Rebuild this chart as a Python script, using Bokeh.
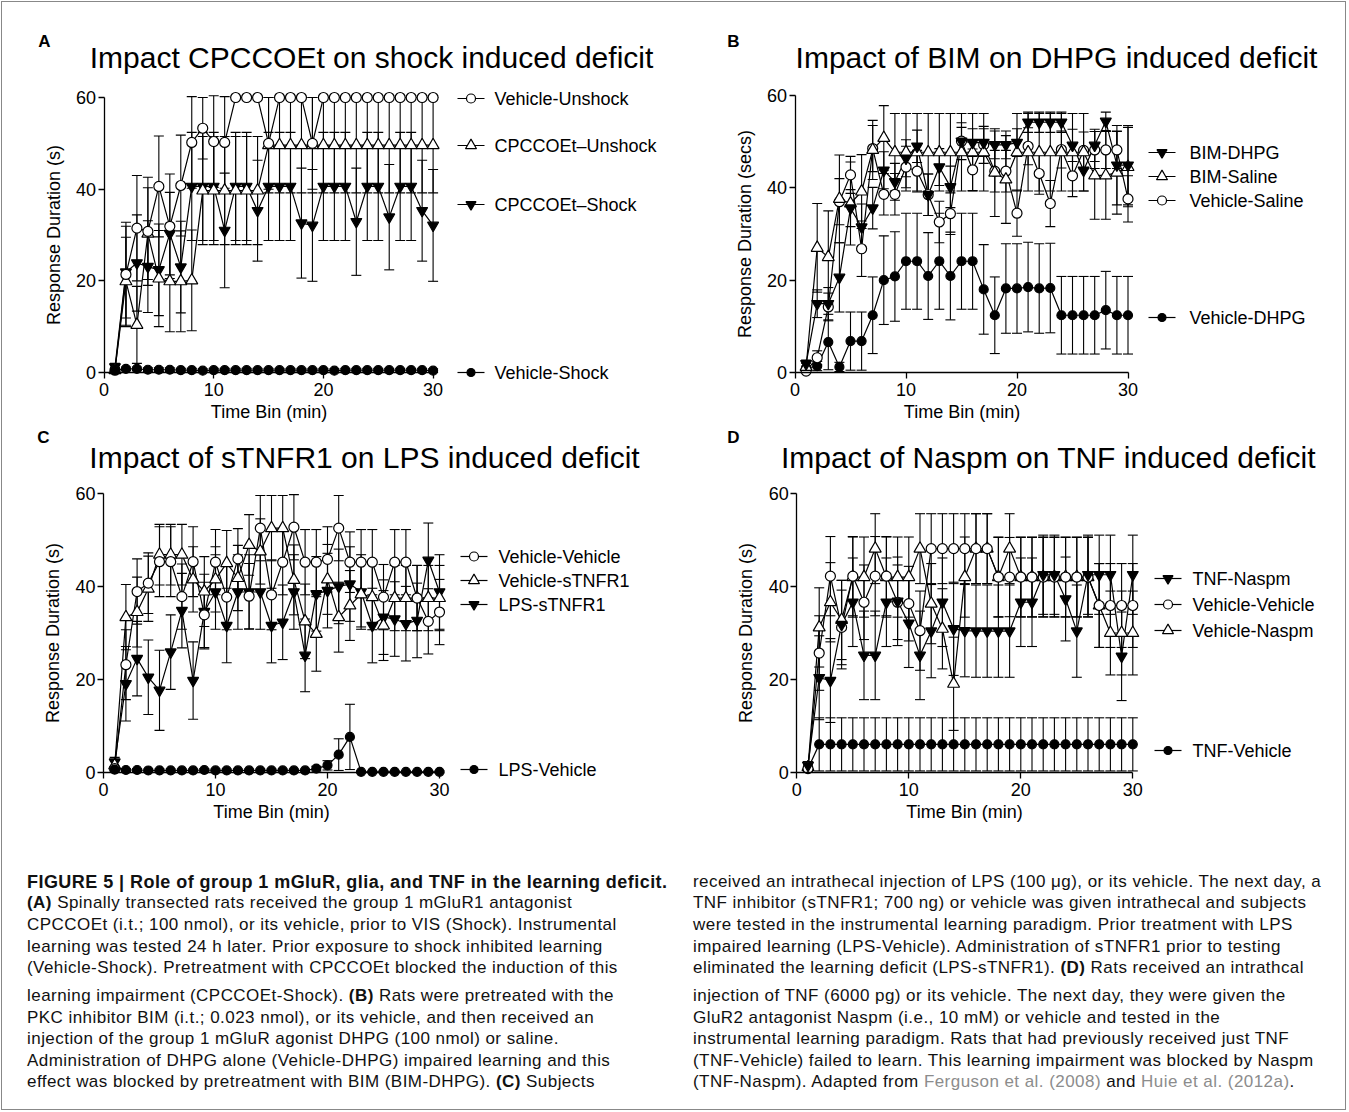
from bokeh.plotting import figure
from bokeh.models import Range1d, LinearAxis, FixedTicker, Div
from bokeh.layouts import column, row
from bokeh.embed import file_html
from bokeh.resources import INLINE
from bokeh.core.properties import value

FONT = "Liberation Sans"

# ---------------- data ----------------
time_bins = [1, 2, 3, 4, 5, 6, 7, 8, 9, 10, 11, 12, 13, 14, 15,
             16, 17, 18, 19, 20, 21, 22, 23, 24, 25, 26, 27, 28, 29, 30]
x_ticks = [0, 10, 20, 30]
y_ticks = [0, 20, 40, 60]

# Panel A
a_veh_unshock = [0.5, 21.4, 31.5, 30.8, 40.6, 31.9, 40.8, 50.2, 53.3, 50.4, 50.2, 60, 60, 60, 50.0,
                 60, 60, 60, 50.0, 60, 60, 60, 60, 60, 60, 60, 60, 60, 60, 60]
a_veh_unshock_sem = [0.5, 11.4, 11.5, 11.8, 11.0, 11.4, 11.0, 10.0, 6.7, 10.0, 10.0, 0, 0, 0, 10.0,
                     0, 0, 0, 10.0, 0, 0, 0, 0, 0, 0, 0, 0, 0, 0, 0]
a_cpc_unshock = [0.5, 19.9, 10.4, 30.3, 20.5, 19.9, 19.9, 20.1, 39.7, 39.7, 39.7, 39.7, 39.7, 39.7, 49.6,
                 49.6, 49.6, 49.6, 49.6, 49.6, 49.6, 49.6, 49.6, 49.6, 49.6, 49.6, 49.6, 49.6, 49.6, 49.6]
a_cpc_unshock_sem = [0.5, 9.6, 8.4, 10.0, 10.5, 11.0, 11.0, 11.0, 11.8, 11.8, 11.8, 11.8, 11.8, 11.8, 10.4,
                     10.4, 10.4, 10.4, 10.4, 10.4, 10.4, 10.4, 10.4, 10.4, 10.4, 10.4, 10.4, 10.4, 10.4, 10.4]
a_cpc_shock = [1.2, 21.9, 23.9, 23.1, 22.4, 30.3, 23.0, 40.6, 40.6, 40.6, 31.0, 40.6, 40.6, 35.3, 40.6,
               40.6, 40.6, 32.6, 32.1, 40.6, 40.6, 40.6, 32.9, 40.6, 40.6, 33.9, 40.6, 40.6, 35.3, 32.1]
a_cpc_shock_sem = [0.8, 10.0, 10.5, 10.0, 10.0, 9.0, 10.0, 11.8, 11.8, 11.8, 12.5, 11.8, 11.8, 11.0, 11.8,
                   11.8, 11.8, 12.0, 12.2, 11.8, 11.8, 11.8, 11.7, 11.8, 11.8, 11.5, 11.8, 11.8, 11.0, 12.2]
a_veh_shock = [0.5, 0.8, 0.8, 0.6, 0.6, 0.6, 0.5, 0.5, 0.4, 0.5, 0.5, 0.5, 0.5, 0.5, 0.5,
               0.5, 0.5, 0.5, 0.5, 0.5, 0.4, 0.5, 0.5, 0.5, 0.5, 0.5, 0.5, 0.5, 0.5, 0.4]
a_veh_shock_sem = [0.4, 0.4, 0.4, 0.4, 0.4, 0.4, 0.4, 0.4, 0.4, 0.4, 0.4, 0.4, 0.4, 0.4, 0.4,
                   0.4, 0.4, 0.4, 0.4, 0.4, 0.4, 0.4, 0.4, 0.4, 0.4, 0.4, 0.4, 0.4, 0.4, 0.4]

# Panel B
b_bim_dhpg = [1.9, 14.9, 14.9, 20.6, 35.6, 31.5, 35.6, 43.8, 41.3, 46.4, 49.0, 38.5, 44.5, 40.2, 50.1,
              49.8, 49.8, 49.3, 49.3, 49.8, 54.2, 54.2, 54.2, 54.2, 49.2, 43.8, 49.2, 54.4, 44.9, 44.9]
b_bim_dhpg_sem = [0.8, 3.0, 3.5, 7.5, 4.0, 5.0, 4.5, 4.0, 4.0, 4.0, 3.5, 4.5, 4.0, 4.5, 3.0,
                  3.0, 3.0, 3.0, 3.0, 3.0, 2.2, 2.2, 2.2, 2.2, 3.5, 4.5, 3.5, 2.0, 8.6, 8.6]
b_bim_saline = [1.2, 27.0, 25.0, 37.6, 36.6, 39.2, 48.2, 50.8, 47.7, 47.7, 47.7, 47.7, 47.7, 47.7, 47.7,
                47.7, 47.7, 43.3, 41.8, 47.7, 47.7, 47.7, 47.7, 47.7, 47.7, 47.7, 42.7, 42.7, 43.3, 44.5]
b_bim_saline_sem = [0.8, 9.6, 10.0, 9.5, 9.0, 8.0, 6.4, 7.0, 8.4, 8.4, 8.4, 8.4, 8.4, 8.4, 8.4,
                    8.4, 8.4, 9.5, 9.5, 8.4, 8.4, 8.4, 8.4, 8.4, 8.4, 8.4, 9.5, 9.5, 9.0, 8.6]
b_veh_saline = [0.3, 3.2, 14.2, 37.0, 42.8, 26.8, 48.5, 38.6, 38.6, 44.5, 43.6, 38.5, 32.6, 34.4, 50.1,
                43.9, 49.3, 43.6, 43.6, 34.5, 49.0, 43.1, 36.6, 48.3, 42.6, 48.1, 48.2, 48.2, 48.2, 37.6]
b_veh_saline_sem = [0.3, 1.5, 3.0, 5.0, 4.0, 6.0, 5.0, 4.5, 4.5, 4.5, 4.5, 4.5, 4.5, 4.5, 4.0,
                    4.5, 4.0, 4.5, 4.5, 5.0, 4.0, 4.5, 5.0, 4.0, 4.5, 4.0, 4.0, 4.0, 4.0, 5.0]
b_veh_dhpg = [0.9, 1.4, 6.6, 1.2, 6.8, 6.8, 12.4, 20.0, 20.8, 24.1, 24.1, 20.9, 24.1, 20.9, 24.1,
              24.1, 18.0, 12.4, 18.2, 18.2, 18.5, 18.2, 18.3, 12.4, 12.4, 12.4, 12.4, 13.5, 12.4, 12.4]
b_veh_dhpg_sem = [0.5, 1.0, 6.0, 1.0, 6.3, 6.3, 8.3, 9.6, 9.7, 10.4, 10.4, 9.4, 10.4, 9.5, 10.4,
                  10.4, 9.7, 8.3, 9.7, 9.7, 9.7, 9.7, 9.7, 8.4, 8.4, 8.4, 8.4, 8.4, 8.4, 8.4]

# Panel C
c_veh_veh = [0.9, 23.2, 38.9, 40.7, 45.3, 45.3, 37.8, 45.3, 33.9, 45.2, 37.7, 45.9, 37.9, 52.5, 38.2,
             45.2, 52.7, 45.2, 45.2, 45.8, 52.5, 45.2, 45.2, 45.2, 37.7, 45.2, 45.2, 37.5, 32.5, 34.5]
c_veh_veh_sem = [0.5, 7.5, 7.0, 6.5, 7.5, 7.5, 7.0, 7.5, 7.0, 7.0, 7.0, 6.5, 7.0, 7.0, 7.5,
                 7.0, 7.0, 7.0, 7.0, 7.0, 7.0, 6.5, 7.0, 7.0, 7.0, 7.0, 7.0, 7.0, 7.0, 7.0]
c_veh_stnfr1 = [1.6, 33.4, 34.5, 39.5, 46.8, 46.8, 46.8, 41.5, 38.9, 41.5, 45.0, 41.8, 48.9, 47.5, 52.5,
                52.5, 41.4, 32.5, 29.8, 41.5, 33.4, 35.9, 38.3, 37.7, 31.6, 37.5, 37.5, 37.5, 37.5, 37.5]
c_veh_stnfr1_sem = [1.0, 7.0, 7.5, 7.0, 6.5, 6.5, 6.5, 7.0, 7.5, 7.0, 7.0, 7.0, 6.5, 7.0, 7.0,
                    7.0, 7.5, 8.0, 8.0, 7.5, 7.5, 7.5, 7.0, 7.0, 7.5, 7.0, 7.0, 7.0, 7.0, 7.0]
c_lps_stnfr1 = [2.3, 19.1, 24.5, 20.5, 17.7, 25.9, 34.8, 19.8, 34.6, 38.8, 31.6, 38.8, 38.8, 38.8, 31.6,
                32.3, 38.8, 25.2, 38.4, 39.1, 40.0, 40.5, 38.8, 31.6, 33.4, 33.0, 32.0, 32.7, 45.6, 38.8]
c_lps_stnfr1_sem = [1.0, 8.0, 8.0, 8.0, 8.6, 8.0, 8.0, 8.3, 8.0, 8.0, 8.0, 8.0, 8.0, 8.0, 8.0,
                    8.0, 8.0, 7.8, 8.0, 8.0, 8.0, 8.0, 8.0, 8.0, 8.0, 8.0, 8.0, 8.0, 8.0, 8.0]
c_lps_veh = [0.7, 0.6, 0.6, 0.5, 0.5, 0.5, 0.5, 0.5, 0.6, 0.5, 0.5, 0.5, 0.5, 0.5, 0.5,
             0.5, 0.5, 0.5, 0.9, 1.6, 3.9, 7.7, 0.2, 0.2, 0.2, 0.2, 0.2, 0.2, 0.2, 0.2]
c_lps_veh_sem = [0.3, 0.3, 0.3, 0.3, 0.3, 0.3, 0.3, 0.3, 0.3, 0.3, 0.3, 0.3, 0.3, 0.3, 0.3,
                 0.3, 0.3, 0.3, 0.5, 1.0, 3.4, 7.0, 0.2, 0.2, 0.2, 0.2, 0.2, 0.2, 0.2, 0.2]

# Panel D
d_tnf_naspm = [1.6, 20.4, 19.8, 31.8, 36.6, 25.2, 25.2, 36.6, 36.8, 32.1, 25.2, 30.4, 36.6, 30.9, 30.5,
               30.4, 30.4, 30.4, 30.4, 36.6, 36.6, 42.5, 42.5, 37.3, 30.4, 42.5, 42.5, 42.5, 25.0, 42.5]
d_tnf_naspm_sem = [0.8, 9.0, 9.0, 9.5, 9.5, 9.5, 9.5, 9.5, 9.5, 9.5, 9.5, 10.0, 9.5, 10.0, 9.9,
                   9.9, 9.9, 9.9, 9.9, 9.5, 9.5, 8.5, 8.5, 9.0, 9.9, 8.5, 8.5, 8.5, 9.5, 8.5]
d_veh_veh = [0.9, 25.7, 42.2, 31.2, 42.2, 36.6, 42.2, 42.2, 36.6, 36.3, 30.5, 48.1, 48.1, 48.1, 48.1,
             48.1, 48.1, 42.0, 42.0, 42.0, 42.0, 42.0, 42.0, 42.0, 42.0, 42.0, 35.9, 35.9, 35.9, 35.9]
d_veh_veh_sem = [0.5, 8.0, 8.5, 8.0, 8.5, 8.0, 8.5, 8.5, 8.0, 8.0, 8.5, 7.5, 7.5, 7.5, 7.5,
                 7.5, 7.5, 8.5, 8.5, 8.5, 8.5, 8.5, 8.5, 8.5, 8.5, 8.5, 9.0, 9.0, 9.0, 9.0]
d_veh_naspm = [1.2, 31.2, 36.6, 32.8, 42.0, 42.0, 48.1, 42.0, 42.0, 42.0, 48.1, 36.3, 30.9, 19.1, 42.0,
               48.1, 48.1, 42.0, 48.1, 42.0, 42.0, 42.0, 42.0, 42.0, 42.0, 42.0, 35.9, 30.0, 30.0, 30.0]
d_veh_naspm_sem = [0.5, 8.5, 8.5, 8.5, 8.6, 8.6, 7.5, 8.6, 8.6, 8.6, 7.5, 8.6, 8.6, 10.0, 8.6,
                   7.5, 7.5, 8.6, 7.5, 8.6, 8.6, 8.6, 8.6, 8.6, 8.6, 8.6, 9.0, 9.0, 9.0, 9.0]
d_tnf_veh = [0.9, 6.1, 6.1, 6.1, 6.1, 6.1, 6.1, 6.1, 6.1, 6.1, 6.1, 6.1, 6.1, 6.1, 6.1,
             6.1, 6.1, 6.1, 6.1, 6.1, 6.1, 6.1, 6.1, 6.1, 6.1, 6.1, 6.1, 6.1, 6.1, 6.1]
d_tnf_veh_sem = [0.5, 5.7, 5.7, 5.7, 5.7, 5.7, 5.7, 5.7, 5.7, 5.7, 5.7, 5.7, 5.7, 5.7, 5.7,
                 5.7, 5.7, 5.7, 5.7, 5.7, 5.7, 5.7, 5.7, 5.7, 5.7, 5.7, 5.7, 5.7, 5.7, 5.7]

# ---------------- styles ----------------
OPEN_CIRCLE = dict(marker="circle", size=10, fill_color="white")
OPEN_TRI = dict(marker="triangle", size=12, fill_color="white")
FILL_INV = dict(marker="inverted_triangle", size=11, fill_color="black")
FILL_CIRCLE = dict(marker="circle", size=9, fill_color="black")


def make_panel(fx, fy, w, h, x0, xs, y0, ys, ylabel):
    """fx, fy: top-left of figure on page; x0/y0: page px of data origin; xs/ys: px per unit."""
    xr = Range1d((fx - x0) / xs, (fx + w - x0) / xs)
    yr = Range1d((y0 - fy - h) / ys, (y0 - fy) / ys)
    p = figure(width=w, height=h, x_range=xr, y_range=yr, min_border=0,
               toolbar_location=None, output_backend="svg", title=None,
               x_axis_type=None, y_axis_type=None)
    p.outline_line_color = None
    p.background_fill_color = None
    p.border_fill_color = None

    xa = LinearAxis(fixed_location=0, bounds=(0, 30), ticker=FixedTicker(ticks=x_ticks),
                    axis_label="Time Bin (min)")
    ya = LinearAxis(fixed_location=0, bounds=(0, 60), ticker=FixedTicker(ticks=y_ticks),
                    axis_label=ylabel)
    for ax in (xa, ya):
        ax.axis_line_width = 1.3
        ax.axis_line_color = "black"
        ax.major_tick_line_color = "black"
        ax.major_tick_line_width = 1.3
        ax.major_tick_out = 6
        ax.major_tick_in = 0
        ax.minor_tick_out = 0
        ax.minor_tick_in = 0
        ax.major_label_text_font = FONT
        ax.major_label_text_font_size = "18px"
        ax.major_label_text_color = "black"
        ax.axis_label_text_font = FONT
        ax.axis_label_text_font_size = "18px"
        ax.axis_label_text_font_style = "normal"
        ax.axis_label_text_color = "black"
    xa.major_label_standoff = 4
    xa.axis_label_standoff = 3
    ya.major_label_standoff = 2
    ya.axis_label_standoff = 9
    p.add_layout(xa, "below")
    p.add_layout(ya, "left")

    def to_data(px, py):
        return (px - x0) / xs, (y0 - py) / ys

    return p, to_data, xs


def draw_series(p, xs_px, series):
    cap = 5.0 / xs_px
    for y, sem, style in series:
        lo = [v - s for v, s in zip(y, sem)]
        hi = [v + s for v, s in zip(y, sem)]
        p.segment(x0=time_bins, y0=lo, x1=time_bins, y1=hi, line_color="black", line_width=1.1)
        left = [t - cap for t in time_bins]
        right = [t + cap for t in time_bins]
        p.segment(x0=left, y0=hi, x1=right, y1=hi, line_color="black", line_width=1.1)
        p.segment(x0=left, y0=lo, x1=right, y1=lo, line_color="black", line_width=1.1)
    for y, sem, style in series:
        p.line(time_bins, y, line_color="black", line_width=1.2)
    for y, sem, style in series:
        p.scatter(time_bins, y, line_color="black", line_width=1.2, **style)


def draw_text(p, to_data, px, py, txt, size, bold=False, align="left"):
    x, y = to_data(px, py)
    p.text(x=[x], y=[y], text=[txt], text_font=value(FONT), text_font_size=value(size),
           text_font_style="bold" if bold else "normal", text_color="black",
           text_align=align, text_baseline="middle")


def draw_legend(p, to_data, line_x0, line_x1, text_x, entries):
    for label, py, style in entries:
        xa_, ya_ = to_data(line_x0, py)
        xb_, _ = to_data(line_x1, py)
        xm_, _ = to_data((line_x0 + line_x1) / 2.0, py)
        p.segment(x0=[xa_], y0=[ya_], x1=[xb_], y1=[ya_], line_color="black", line_width=1.2)
        st = dict(style)
        st["size"] = st["size"] - 1
        p.scatter([xm_], [ya_], line_color="black", line_width=1.2, **st)
        draw_text(p, to_data, text_x, py, label, "18px")


# ---------------- Panel A ----------------
pA, tA, sA = make_panel(0, 0, 688, 428, 103.5, 10.97, 372.0, 4.583, "Response Duration (s)")
draw_series(pA, sA, [
    (a_cpc_shock, a_cpc_shock_sem, FILL_INV),
    (a_cpc_unshock, a_cpc_unshock_sem, OPEN_TRI),
    (a_veh_unshock, a_veh_unshock_sem, OPEN_CIRCLE),
    (a_veh_shock, a_veh_shock_sem, FILL_CIRCLE),
])
draw_text(pA, tA, 44, 41, "A", "17px", bold=True, align="center")
draw_text(pA, tA, 371, 57, "Impact CPCCOEt on shock induced deficit", "30px", align="center")
draw_legend(pA, tA, 457, 484, 494, [
    ("Vehicle-Unshock", 98, OPEN_CIRCLE),
    ("CPCCOEt\u2013Unshock", 145, OPEN_TRI),
    ("CPCCOEt\u2013Shock", 204, FILL_INV),
    ("Vehicle-Shock", 372, FILL_CIRCLE),
])

# ---------------- Panel B ----------------
pB, tB, sB = make_panel(688, 0, 659, 428, 794.5, 11.1, 372.0, 4.617, "Response Duration (secs)")
draw_series(pB, sB, [
    (b_veh_dhpg, b_veh_dhpg_sem, FILL_CIRCLE),
    (b_veh_saline, b_veh_saline_sem, OPEN_CIRCLE),
    (b_bim_saline, b_bim_saline_sem, OPEN_TRI),
    (b_bim_dhpg, b_bim_dhpg_sem, FILL_INV),
])
draw_text(pB, tB, 733, 41, "B", "17px", bold=True, align="center")
draw_text(pB, tB, 1056, 57, "Impact of BIM on DHPG induced deficit", "30px", align="center")
draw_legend(pB, tB, 1148, 1175, 1189, [
    ("BIM-DHPG", 152, FILL_INV),
    ("BIM-Saline", 176, OPEN_TRI),
    ("Vehicle-Saline", 200, OPEN_CIRCLE),
    ("Vehicle-DHPG", 317, FILL_CIRCLE),
])

# ---------------- Panel C ----------------
pC, tC, sC = make_panel(0, 428, 688, 412, 103.0, 11.2, 772.3, 4.66, "Response Duration (s)")
draw_series(pC, sC, [
    (c_lps_stnfr1, c_lps_stnfr1_sem, FILL_INV),
    (c_veh_stnfr1, c_veh_stnfr1_sem, OPEN_TRI),
    (c_veh_veh, c_veh_veh_sem, OPEN_CIRCLE),
    (c_lps_veh, c_lps_veh_sem, FILL_CIRCLE),
])
draw_text(pC, tC, 43, 437, "C", "17px", bold=True, align="center")
draw_text(pC, tC, 364, 457, "Impact of sTNFR1 on LPS induced deficit", "30px", align="center")
draw_legend(pC, tC, 460, 487, 498, [
    ("Vehicle-Vehicle", 556, OPEN_CIRCLE),
    ("Vehicle-sTNFR1", 580, OPEN_TRI),
    ("LPS-sTNFR1", 604, FILL_INV),
    ("LPS-Vehicle", 769, FILL_CIRCLE),
])

# ---------------- Panel D ----------------
pD, tD, sD = make_panel(688, 428, 659, 412, 796.3, 11.2, 772.3, 4.66, "Response Duration (s)")
draw_series(pD, sD, [
    (d_tnf_veh, d_tnf_veh_sem, FILL_CIRCLE),
    (d_veh_naspm, d_veh_naspm_sem, OPEN_TRI),
    (d_veh_veh, d_veh_veh_sem, OPEN_CIRCLE),
    (d_tnf_naspm, d_tnf_naspm_sem, FILL_INV),
])
draw_text(pD, tD, 733, 437, "D", "17px", bold=True, align="center")
draw_text(pD, tD, 1048, 457, "Impact of Naspm on TNF induced deficit", "30px", align="center")
draw_legend(pD, tD, 1154, 1181, 1192, [
    ("TNF-Naspm", 578, FILL_INV),
    ("Vehicle-Vehicle", 604, OPEN_CIRCLE),
    ("Vehicle-Naspm", 630, OPEN_TRI),
    ("TNF-Vehicle", 750, FILL_CIRCLE),
])

# ---------------- Caption ----------------
left_lines = [
    "<b style='font-size:18px;letter-spacing:0.45px'>FIGURE 5 | Role of group 1 mGluR, glia, and TNF in the learning deficit.</b>",
    "<b>(A)</b> Spinally transected rats received the group 1 mGluR1 antagonist",
    "CPCCOEt (i.t.; 100 nmol), or its vehicle, prior to VIS (Shock). Instrumental",
    "learning was tested 24 h later. Prior exposure to shock inhibited learning",
    "(Vehicle-Shock). Pretreatment with CPCCOEt blocked the induction of this",
    "learning impairment (CPCCOEt-Shock). <b>(B)</b> Rats were pretreated with the",
    "PKC inhibitor BIM (i.t.; 0.023 nmol), or its vehicle, and then received an",
    "injection of the group 1 mGluR agonist DHPG (100 nmol) or saline.",
    "Administration of DHPG alone (Vehicle-DHPG) impaired learning and this",
    "effect was blocked by pretreatment with BIM (BIM-DHPG). <b>(C)</b> Subjects",
]
right_lines = [
    "received an intrathecal injection of LPS (100 \u03bcg), or its vehicle. The next day, a",
    "TNF inhibitor (sTNFR1; 700 ng) or vehicle was given intrathecal and subjects",
    "were tested in the instrumental learning paradigm. Prior treatment with LPS",
    "impaired learning (LPS-Vehicle). Administration of sTNFR1 prior to testing",
    "eliminated the learning deficit (LPS-sTNFR1). <b>(D)</b> Rats received an intrathcal",
    "injection of TNF (6000 pg) or its vehicle. The next day, they were given the",
    "GluR2 antagonist Naspm (i.e., 10 mM) or vehicle and tested in the",
    "instrumental learning paradigm. Rats that had previously received just TNF",
    "(TNF-Vehicle) failed to learn. This learning impairment was blocked by Naspm",
    "(TNF-Naspm). Adapted from <span style='color:#8c8c8c'>Ferguson et al. (2008)</span> and "
    "<span style='color:#8c8c8c'>Huie et al. (2012a)</span>.",
]
line_centers = [42, 63, 85, 106.5, 128, 156, 177.5, 199, 220.5, 242]

parts = []
for col_x, lines in ((27, left_lines), (693, right_lines)):
    for txt, cy in zip(lines, line_centers):
        parts.append(
            f"<div style='position:absolute;left:{col_x}px;top:{cy - 11}px;height:22px;"
            f"line-height:22px;white-space:nowrap;font-family:\"{FONT}\",Arial,sans-serif;"
            f"font-size:17px;letter-spacing:0.45px;color:#111;'>{txt}</div>")
caption_html = ("<div style='position:relative;width:1347px;height:271px;'>" + "".join(parts) + "</div>")
caption = Div(text=caption_html, width=1347, height=271, margin=0)

layout = column(row(pA, pB), row(pC, pD), caption,
                styles={"outline": "1px solid #888", "outline-offset": "-2px"})
open("out.html", "w").write(file_html(layout, INLINE))
